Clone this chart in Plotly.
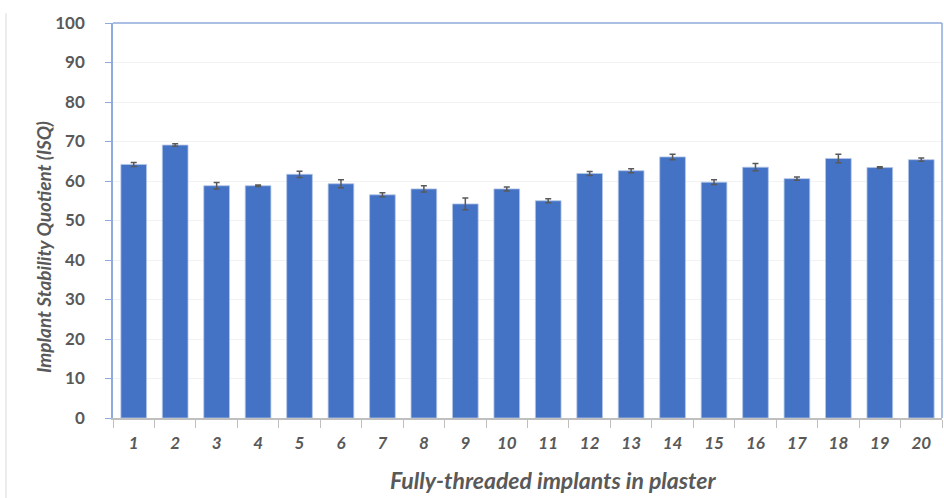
import plotly.graph_objects as go

categories = [str(i) for i in range(1, 21)]
isq_mean = [64.2, 69.1, 58.8, 58.8, 61.7, 59.3, 56.5, 58.0, 54.2, 58.0,
            55.0, 61.9, 62.6, 66.1, 59.7, 63.5, 60.6, 65.7, 63.4, 65.4]
isq_err = [0.5, 0.3, 0.8, 0.2, 0.8, 1.0, 0.5, 0.8, 1.5, 0.5,
           0.5, 0.5, 0.5, 0.7, 0.6, 0.9, 0.4, 1.1, 0.2, 0.4]
y_ticks = [0, 10, 20, 30, 40, 50, 60, 70, 80, 90, 100]

grey = "#595959"
blue_axis = "#8FAADC"

W, H = 944, 498
L, R, T, B = 113, 2, 23, 80
pw = W - L - R
ph = H - T - B


def px_x(x):
    return (x - L) / pw


def px_y(y):
    return (T + ph - y) / ph


fig = go.Figure()
fig.add_trace(go.Bar(
    x=categories, y=isq_mean,
    marker=dict(color="#4472C4", line=dict(color="rgba(180,199,231,0.8)", width=1)),
    error_y=dict(type="data", array=isq_err, color=grey, thickness=1.5, width=3),
    width=0.62,
))

fig.update_layout(
    width=W, height=H,
    margin=dict(l=L, r=R, t=T, b=B),
    paper_bgcolor="white", plot_bgcolor="white",
    showlegend=False,
    font=dict(family="Lato, Open Sans, sans-serif", color=grey),
)
fig.update_xaxes(
    type="category",
    showline=True, linecolor="#BFBFBF", linewidth=1.5,
    ticks="outside", tickson="boundaries", ticklen=8, tickcolor="#BFBFBF",
    tickfont=dict(size=17, family="Lato", color=grey, weight="bold", style="italic"),
    ticklabelstandoff=9,
    showgrid=False,
)
fig.update_yaxes(
    range=[0, 100], tickvals=y_ticks,
    showline=True, linecolor=blue_axis, linewidth=1.5,
    ticks="outside", ticklen=6, tickcolor=blue_axis,
    tickfont=dict(size=17, family="Lato", color=grey, weight="bold"),
    ticklabelstandoff=17,
    showgrid=True, gridcolor="#F2F2F2", gridwidth=1,
    zeroline=False,
)
# axis titles as annotations, placed where the original has them
fig.add_annotation(text="Fully-threaded implants in plaster", xref="paper", yref="paper",
                   x=px_x(553), y=px_y(480), showarrow=False,
                   xanchor="center", yanchor="middle",
                   font=dict(size=23, family="Lato", color=grey, weight="bold", style="italic"))
fig.add_annotation(text="Implant Stability Quotient (ISQ)", xref="paper", yref="paper",
                   x=px_x(43), y=px_y(247), showarrow=False, textangle=-90,
                   xanchor="center", yanchor="middle",
                   font=dict(size=19, family="Lato", color=grey, weight="bold", style="italic"))
# top and right border in blue
fig.add_shape(type="line", xref="paper", yref="paper", x0=0, x1=1, y0=1, y1=1,
              line=dict(color=blue_axis, width=1.5))
fig.add_shape(type="line", xref="paper", yref="paper", x0=1, x1=1, y0=0, y1=1,
              line=dict(color=blue_axis, width=1.5))
# faint frame line on the left of the picture
fx = px_x(6)
fig.add_shape(type="line", xref="paper", yref="paper", x0=fx, x1=fx,
              y0=-0.25, y1=1.025, line=dict(color="#E6E6E6", width=1.5))

fig.write_html("out.html", config={"displayModeBar": False},
               post_script="document.body.style.margin='0';")
